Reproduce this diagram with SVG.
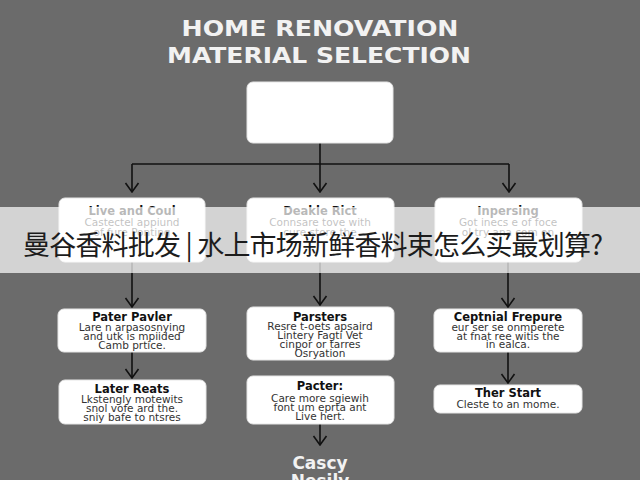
<svg xmlns="http://www.w3.org/2000/svg" width="640" height="480" viewBox="0 0 640 480">
<defs>
<marker id="arr" viewBox="-1 -8 11 16" markerWidth="11" markerHeight="16" refX="9" refY="0" orient="auto" markerUnits="userSpaceOnUse">
<path d="M0,-6.5 L9,0 L0,6.5" fill="none" stroke="#111" stroke-width="1.6"/>
</marker>
<style>
.bg{fill:#6b6b6b}
.ttl{font-family:"DejaVu Sans","Liberation Sans",sans-serif;font-weight:bold;fill:#f2f2f2;text-anchor:middle}
.box{fill:#ffffff;stroke:#e6e6e6;stroke-width:1}
.bt{font-family:"DejaVu Sans","Liberation Sans",sans-serif;font-weight:bold;font-size:11.5px;fill:#111;text-anchor:middle}
.bd{font-family:"DejaVu Sans","Liberation Sans",sans-serif;font-size:10.5px;fill:#333;text-anchor:middle}
.con{fill:none;stroke:#111;stroke-width:1.6}
.cjk{font-family:"Noto Sans CJK SC","Noto Sans",sans-serif;font-size:27px;fill:#1c1c1c}
</style>
</defs>
<rect class="bg" x="0" y="0" width="640" height="480"/>
<g id="title">
<text class="ttl" x="320" y="36" font-size="22" textLength="277" lengthAdjust="spacingAndGlyphs">HOME RENOVATION</text>
<text class="ttl" x="319" y="63" font-size="22" textLength="304" lengthAdjust="spacingAndGlyphs">MATERIAL SELECTION</text>
</g>
<g id="connectors">
<path class="con" d="M320,143 V192" marker-end="url(#arr)"/>
<path class="con" d="M132,164 H509"/>
<path class="con" d="M132,164 V192" marker-end="url(#arr)"/>
<path class="con" d="M509,164 V192" marker-end="url(#arr)"/>
<path class="con" d="M132,262 V307" marker-end="url(#arr)"/>
<path class="con" d="M320,262 V305" marker-end="url(#arr)"/>
<path class="con" d="M508,262 V307" marker-end="url(#arr)"/>
<path class="con" d="M132,352 V378" marker-end="url(#arr)"/>
<path class="con" d="M508,352 V383" marker-end="url(#arr)"/>
<path class="con" d="M320,424 V445" marker-end="url(#arr)"/>
</g>
<g id="root">
<rect class="box" x="247" y="82" width="146" height="61" rx="6"/>
</g>
<g id="n1">
<rect class="box" x="59" y="198" width="146" height="64" rx="6"/>
<text class="bt" x="132" y="215">Live and Coul</text>
<text class="bd" x="132" y="226">Castectel appiund</text>
<text class="bd" x="132" y="236">of fure Ponting</text>
</g>
<g id="n2">
<rect class="box" x="247" y="198" width="147" height="64" rx="6"/>
<text class="bt" x="320" y="215">Deakle Rict</text>
<text class="bd" x="320" y="226">Connsare tove with</text>
<text class="bd" x="320" y="236">cure store the</text>
</g>
<g id="n3">
<rect class="box" x="435" y="198" width="147" height="64" rx="6"/>
<text class="bt" x="508" y="215">Inpersing</text>
<text class="bd" x="508" y="226">Got inecs e of foce</text>
<text class="bd" x="508" y="236">ol try ana com on</text>
</g>
<g id="n4">
<rect class="box" x="58" y="309" width="148" height="43" rx="6"/>
<text class="bt" x="132" y="321">Pater Pavler</text>
<text class="bd" x="132" y="331">Lare n arpasosnying</text>
<text class="bd" x="132" y="340">and utk is mpiided</text>
<text class="bd" x="132" y="349">Camb prtice.</text>
</g>
<g id="n5">
<rect class="box" x="247" y="307" width="147" height="53" rx="6"/>
<text class="bt" x="320" y="321">Parsters</text>
<text class="bd" x="320" y="330">Resre t-oets apsaird</text>
<text class="bd" x="320" y="339">Lintery Fagti Vet</text>
<text class="bd" x="320" y="348">cinpor or tarres</text>
<text class="bd" x="320" y="357">Osryation</text>
</g>
<g id="n6">
<rect class="box" x="434" y="309" width="148" height="43" rx="6"/>
<text class="bt" x="508" y="321">Ceptnial Frepure</text>
<text class="bd" x="508" y="331">eur ser se onmperete</text>
<text class="bd" x="508" y="340">at fnat ree witis the</text>
<text class="bd" x="508" y="348">in ealca.</text>
</g>
<g id="n7">
<rect class="box" x="59" y="380" width="147" height="44" rx="6"/>
<text class="bt" x="132" y="393">Later Reats</text>
<text class="bd" x="132" y="403">Lkstengly motewits</text>
<text class="bd" x="132" y="412">snol vofe ard the.</text>
<text class="bd" x="132" y="421">sniy bafe to ntsres</text>
</g>
<g id="n8">
<rect class="box" x="247" y="376" width="147" height="48" rx="6"/>
<text class="bt" x="320" y="390">Pacter:</text>
<text class="bd" x="320" y="402">Care more sgiewih</text>
<text class="bd" x="320" y="411">font um eprta ant</text>
<text class="bd" x="320" y="420">Live hert.</text>
</g>
<g id="n9">
<rect class="box" x="434" y="385" width="148" height="28" rx="6"/>
<text class="bt" x="508" y="397">Ther Start</text>
<text class="bd" x="508" y="408">Cleste to an mome.</text>
</g>
<g id="n10">
<text class="ttl" x="320" y="469" font-size="17">Cascy</text>
<text class="ttl" x="320" y="487" font-size="17">Nesily</text>
</g>
<g id="banner">
<rect x="0" y="207" width="640" height="66" fill="#ffffff" fill-opacity="0.7"/>
<text class="cjk" x="23" y="255" textLength="580" lengthAdjust="spacing">曼谷香料批发 | 水上市场新鲜香料束怎么买最划算?</text>
</g>
</svg>
